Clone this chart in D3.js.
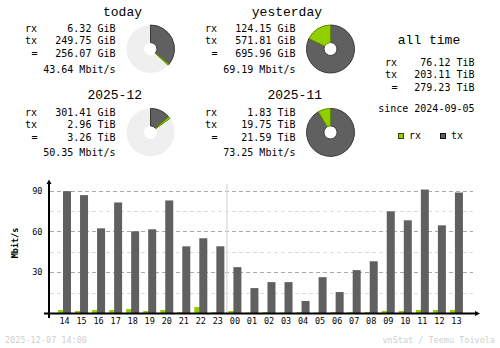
<!DOCTYPE html>
<html><head><meta charset="utf-8">
<script src="https://cdn.jsdelivr.net/npm/d3@7/dist/d3.min.js"></script>
<style>
html,body{margin:0;padding:0;background:#fff;}
svg{display:block;font-family:"DejaVu Sans Mono",monospace;}
.title{font-family:"Liberation Mono","DejaVu Sans Mono",monospace;}
</style></head>
<body><svg id="c" width="500" height="348"></svg>
<script>
// ---- data ----
const periods = ["today", "yesterday", "2025-12", "2025-11"];
const rxLabels = ["6.32 GiB", "124.15 GiB", "301.41 GiB", "1.83 TiB"];
const txLabels = ["249.75 GiB", "571.81 GiB", "2.96 TiB", "19.75 TiB"];
const totalLabels = ["256.07 GiB", "695.96 GiB", "3.26 TiB", "21.59 TiB"];
const rateLabels = ["43.64 Mbit/s", "69.19 Mbit/s", "50.35 Mbit/s", "73.25 Mbit/s"];
const rxGiB = [6.32, 124.15, 301.41, 1873.92];
const txGiB = [249.75, 571.81, 3031.04, 20224.0];
const compareWith = [1, null, 3, null]; // ongoing period compared with previous

const allTimeKeys = ["rx", "tx", "="];
const allTimeValues = ["76.12 TiB", "203.11 TiB", "279.23 TiB"];
const sinceLabel = "since 2024-09-05";
const legendKeys = ["rx", "tx"];

const hours = ["14","15","16","17","18","19","20","21","22","23","00","01","02","03","04","05","06","07","08","09","10","11","12","13"];
const rxRate = [2.2,1.5,2.2,2.2,2.9,1.5,2.2,0.7,4.4,0.7,1.5,0.3,0.7,0.3,0.7,0.3,0.7,0.7,0.7,1.5,1.5,2.2,2.2,2.2];
const txRate = [89.5,86.6,62.2,81.2,60.0,61.5,82.7,49.0,54.9,49.0,33.7,18.3,22.7,22.7,8.8,26.3,15.4,31.5,38.0,74.7,68.1,90.7,64.4,88.5];
const yTicks = [30, 60, 90];
const yMinor = [15, 45, 75];
const yLabel = "Mbit/s";
const footerLeft = "2025-12-07 14:00";
const footerRight = "vnStat / Teemu Toivola";

// ---- colors ----
const C = { rx: "#92cf00", rxEdge: "#5f8a00", tx: "#606060", txEdge: "#3a3a3a", pieBg: "#efefef" };

const svg = d3.select("#c");

// ---- summary blocks ----
const blockPos = [[0,0],[180,0],[0,83.4],[180,83.4]];
const arc = d3.arc().innerRadius(6.5).outerRadius(24);
periods.forEach((p, i) => {
  const [ox, oy] = blockPos[i];
  const g = svg.append("g").attr("transform", `translate(${ox},${oy})`);
  g.append("text").attr("class", "title").attr("x", 142).attr("y", 16).attr("text-anchor", "end")
    .attr("font-size", 13).text(p);
  const rows = [["rx", rxLabels[i], 32.3], ["tx", txLabels[i], 44.3], ["=", totalLabels[i], 57.3]];
  rows.forEach(([k, v, yy]) => {
    g.append("text").attr("x", k === "=" ? 31.5 : 25).attr("y", yy).attr("font-size", 10).text(k);
    g.append("text").attr("x", 115.5).attr("y", yy).attr("text-anchor", "end").attr("font-size", 10).text(v);
  });
  g.append("text").attr("x", 115.5).attr("y", 72.7).attr("text-anchor", "end").attr("font-size", 10).text(rateLabels[i]);

  // donut
  const total = rxGiB[i] + txGiB[i];
  let ref = total;
  if (compareWith[i] !== null) ref = Math.max(total, rxGiB[compareWith[i]] + txGiB[compareWith[i]]);
  const angle = d3.scaleLinear().domain([0, ref]).range([0, 2 * Math.PI]);
  const pg = g.append("g").attr("transform", "translate(150.5,49)");
  pg.append("path").attr("d", arc({startAngle: 0, endAngle: 2 * Math.PI})).attr("fill", C.pieBg);
  const txEnd = angle(txGiB[i]);
  const rxEnd = angle(total);
  pg.append("path").attr("d", arc({startAngle: 0, endAngle: txEnd})).attr("fill", C.tx).attr("stroke", C.txEdge).attr("stroke-width", 1);
  pg.append("path").attr("d", arc({startAngle: txEnd, endAngle: rxEnd})).attr("fill", C.rx).attr("stroke", C.rxEdge).attr("stroke-width", 1);
});

// ---- all time ----
const at = svg.append("g");
at.append("text").attr("class", "title").attr("x", 429).attr("y", 44.3).attr("text-anchor", "middle").attr("font-size", 13).text("all time");
const atY = [65.7, 77.5, 91.2];
allTimeKeys.forEach((k, i) => {
  at.append("text").attr("x", k === "=" ? 391.5 : 385).attr("y", atY[i]).attr("font-size", 10).text(k);
  at.append("text").attr("x", 474.5).attr("y", atY[i]).attr("text-anchor", "end").attr("font-size", 10).text(allTimeValues[i]);
});
at.append("text").attr("x", 474.5).attr("y", 111.7).attr("text-anchor", "end").attr("font-size", 10).text(sinceLabel);
const legX = [398.5, 440.5];
legendKeys.forEach((k, i) => {
  at.append("rect").attr("x", legX[i]).attr("y", 133.5).attr("width", 5).attr("height", 5)
    .attr("fill", C[k]).attr("stroke", k === "rx" ? "#2e4a00" : "#111").attr("stroke-width", 1);
  at.append("text").attr("x", legX[i] + 10.5).attr("y", 139.4).attr("font-size", 10).text(k);
});

// ---- hourly bar chart ----
const x = d3.scaleBand().domain(hours).range([55, 55 + 24 * 17.04]).paddingInner(0).paddingOuter(0);
const y = d3.scaleLinear().domain([0, 90]).range([313, 190.5]);

const grid = svg.append("g");
yMinor.forEach(v => grid.append("line").attr("x1", 50).attr("x2", 473).attr("y1", Math.round(y(v)) + 0.5).attr("y2", Math.round(y(v)) + 0.5)
  .attr("stroke", "#dcdcdc").attr("stroke-dasharray", "4,3"));
yTicks.forEach(v => grid.append("line").attr("x1", 50).attr("x2", 473).attr("y1", Math.round(y(v)) + 0.5).attr("y2", Math.round(y(v)) + 0.5)
  .attr("stroke", "#aaaaaa").attr("stroke-dasharray", "4,3"));

// day separator
svg.append("line").attr("x1", x("00") + 1.5).attr("x2", x("00") + 1.5).attr("y1", 184).attr("y2", 313)
  .attr("stroke", "#dddddd").attr("stroke-width", 1.5);

const bars = svg.append("g");
hours.forEach((h, i) => {
  bars.append("rect").attr("x", x(h) + 3).attr("width", 8).attr("y", y(rxRate[i])).attr("height", y(0) - y(rxRate[i])).attr("fill", C.rx);
  bars.append("rect").attr("x", x(h) + 8).attr("width", 8).attr("y", y(txRate[i])).attr("height", y(0) - y(txRate[i])).attr("fill", C.tx);
});

// axes lines
svg.append("line").attr("x1", 49).attr("x2", 49).attr("y1", 182).attr("y2", 318).attr("stroke", "#000").attr("stroke-width", 2);
svg.append("path").attr("d", "M46.5,184 L49,179.5 L51.5,184 Z").attr("fill", "#000");
svg.append("line").attr("x1", 44).attr("x2", 476).attr("y1", 313.5).attr("y2", 313.5).attr("stroke", "#000").attr("stroke-width", 2);
svg.append("path").attr("d", "M475,311 L480,313.5 L475,316 Z").attr("fill", "#000");

// y tick labels
const yAxis = svg.append("g").attr("transform", "translate(49,0)")
  .call(d3.axisLeft(y).tickValues(yTicks).tickSize(0).tickPadding(6.5).tickFormat(d3.format("d")));
yAxis.select(".domain").remove();
yAxis.selectAll("text").attr("font-family", "DejaVu Sans Mono").attr("font-size", 8.5).attr("fill", "#000");

// x tick labels
const xAxis = svg.append("g").attr("transform", "translate(1,313)")
  .call(d3.axisBottom(x).tickSize(0).tickPadding(5));
xAxis.select(".domain").remove();
xAxis.selectAll("text").attr("font-family", "DejaVu Sans Mono").attr("font-size", 8.5).attr("fill", "#000");

svg.append("text").attr("transform", "translate(17.5,243) rotate(-90)").attr("text-anchor", "middle")
  .attr("font-size", 8.5).attr("font-weight", "bold").text(yLabel);

// footer
svg.append("text").attr("x", 5).attr("y", 343).attr("font-size", 8.5).attr("fill", "#cfcfcf").text(footerLeft);
svg.append("text").attr("x", 495).attr("y", 343).attr("text-anchor", "end").attr("font-size", 8.5).attr("fill", "#cfcfcf").text(footerRight);
</script>
</body></html>
